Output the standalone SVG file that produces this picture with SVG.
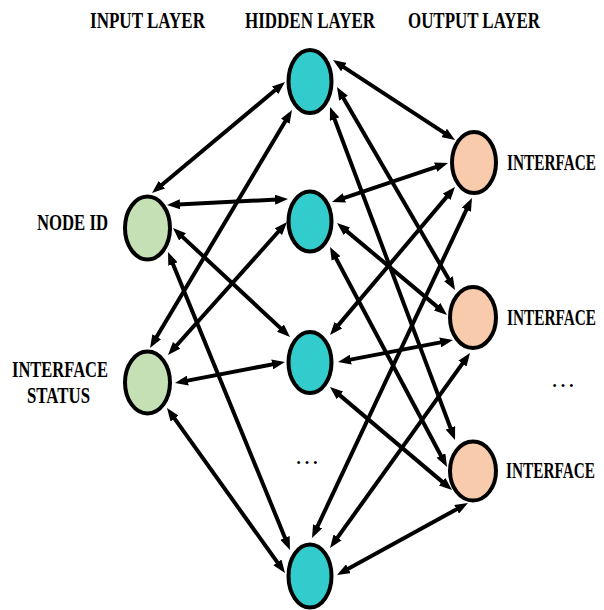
<svg xmlns="http://www.w3.org/2000/svg" width="604" height="610" viewBox="0 0 604 610">
<style>
.lbl{font-family:"Liberation Serif","Times New Roman",serif;font-weight:bold;font-size:23px;fill:#000}
.dots{font-family:"Liberation Serif","Times New Roman",serif;font-size:25px;fill:#000;text-anchor:middle}
.n{stroke:#000;stroke-width:4}
.in{fill:#C5E0B4}
.hid{fill:#33CCCC}
.out{fill:#F8CBAD}
.c line{stroke:#000;stroke-width:4;marker-start:url(#a);marker-end:url(#a)}
</style>
<defs>
<marker id="a" viewBox="0 0 13 10" refX="7" refY="5" markerWidth="13" markerHeight="10" markerUnits="userSpaceOnUse" orient="auto-start-reverse"><path d="M0,0 L13,5 L0,10 z" fill="#000"/></marker>
</defs>
<rect width="604" height="610" fill="#fff"/>
<g id="titles">
<text class="lbl" x="90" y="28" textLength="115" lengthAdjust="spacingAndGlyphs">INPUT LAYER</text>
<text class="lbl" x="245" y="28" textLength="130" lengthAdjust="spacingAndGlyphs">HIDDEN LAYER</text>
<text class="lbl" x="408" y="28" textLength="132" lengthAdjust="spacingAndGlyphs">OUTPUT LAYER</text>
</g>
<g id="in1"><ellipse class="n in" cx="147.5" cy="228" rx="22.5" ry="31.5"/>
<text class="lbl" x="37" y="230" textLength="71" lengthAdjust="spacingAndGlyphs">NODE ID</text></g>
<g id="in2"><ellipse class="n in" cx="147.5" cy="382.5" rx="22.5" ry="31"/>
<text class="lbl" x="12" y="377" textLength="96" lengthAdjust="spacingAndGlyphs">INTERFACE</text>
<text class="lbl" x="27" y="403" textLength="63" lengthAdjust="spacingAndGlyphs">STATUS</text></g>
<g id="h1"><ellipse class="n hid" cx="310" cy="81.5" rx="21.5" ry="31.5"/></g>
<g id="h2"><ellipse class="n hid" cx="310" cy="221.5" rx="21.5" ry="30"/></g>
<g id="h3"><ellipse class="n hid" cx="310" cy="362.5" rx="21.5" ry="30.5"/></g>
<g id="h4"><ellipse class="n hid" cx="310" cy="576" rx="21.5" ry="31.5"/></g>
<g id="o1"><ellipse class="n out" cx="474" cy="162.5" rx="22" ry="30.5"/>
<text class="lbl" x="507" y="170" textLength="89" lengthAdjust="spacingAndGlyphs">INTERFACE</text></g>
<g id="o2"><ellipse class="n out" cx="473" cy="317.5" rx="23" ry="30.5"/>
<text class="lbl" x="507" y="325" textLength="89" lengthAdjust="spacingAndGlyphs">INTERFACE</text></g>
<g id="o3"><ellipse class="n out" cx="473" cy="471" rx="23" ry="29.5"/>
<text class="lbl" x="506" y="478" textLength="89" lengthAdjust="spacingAndGlyphs">INTERFACE</text></g>
<g id="ellipses">
<text class="dots" x="307" y="464">…</text>
<text class="dots" x="563" y="387">…</text>
</g>
<g id="connectors" class="c">
<line x1="156.6" y1="189.2" x2="280.4" y2="85.8"/>
<line x1="173" y1="204.7" x2="282" y2="199.3"/>
<line x1="177.4" y1="232.1" x2="285.6" y2="332.9"/>
<line x1="170.3" y1="257.6" x2="287.7" y2="544.4"/>
<line x1="153.1" y1="342.8" x2="288.9" y2="115.2"/>
<line x1="172" y1="350.5" x2="283" y2="226.5"/>
<line x1="180.9" y1="381.9" x2="279.1" y2="363.1"/>
<line x1="170.5" y1="412.9" x2="281.5" y2="568.1"/>
<line x1="338" y1="63.3" x2="450" y2="136.7"/>
<line x1="340" y1="92.2" x2="452" y2="284.8"/>
<line x1="332.1" y1="112.6" x2="452.9" y2="434.4"/>
<line x1="337.7" y1="200.1" x2="442.3" y2="164.9"/>
<line x1="341.6" y1="226.9" x2="442.4" y2="311.1"/>
<line x1="332.8" y1="252.3" x2="444.2" y2="461.7"/>
<line x1="333.9" y1="330.4" x2="451.1" y2="191.6"/>
<line x1="343.9" y1="360.9" x2="447.1" y2="341.1"/>
<line x1="334.6" y1="390.9" x2="447.4" y2="486.1"/>
<line x1="314.6" y1="532.6" x2="469.4" y2="203.4"/>
<line x1="333.5" y1="543.1" x2="466.5" y2="357.9"/>
<line x1="342.3" y1="572.1" x2="462.7" y2="505.9"/>
</g>
</svg>
